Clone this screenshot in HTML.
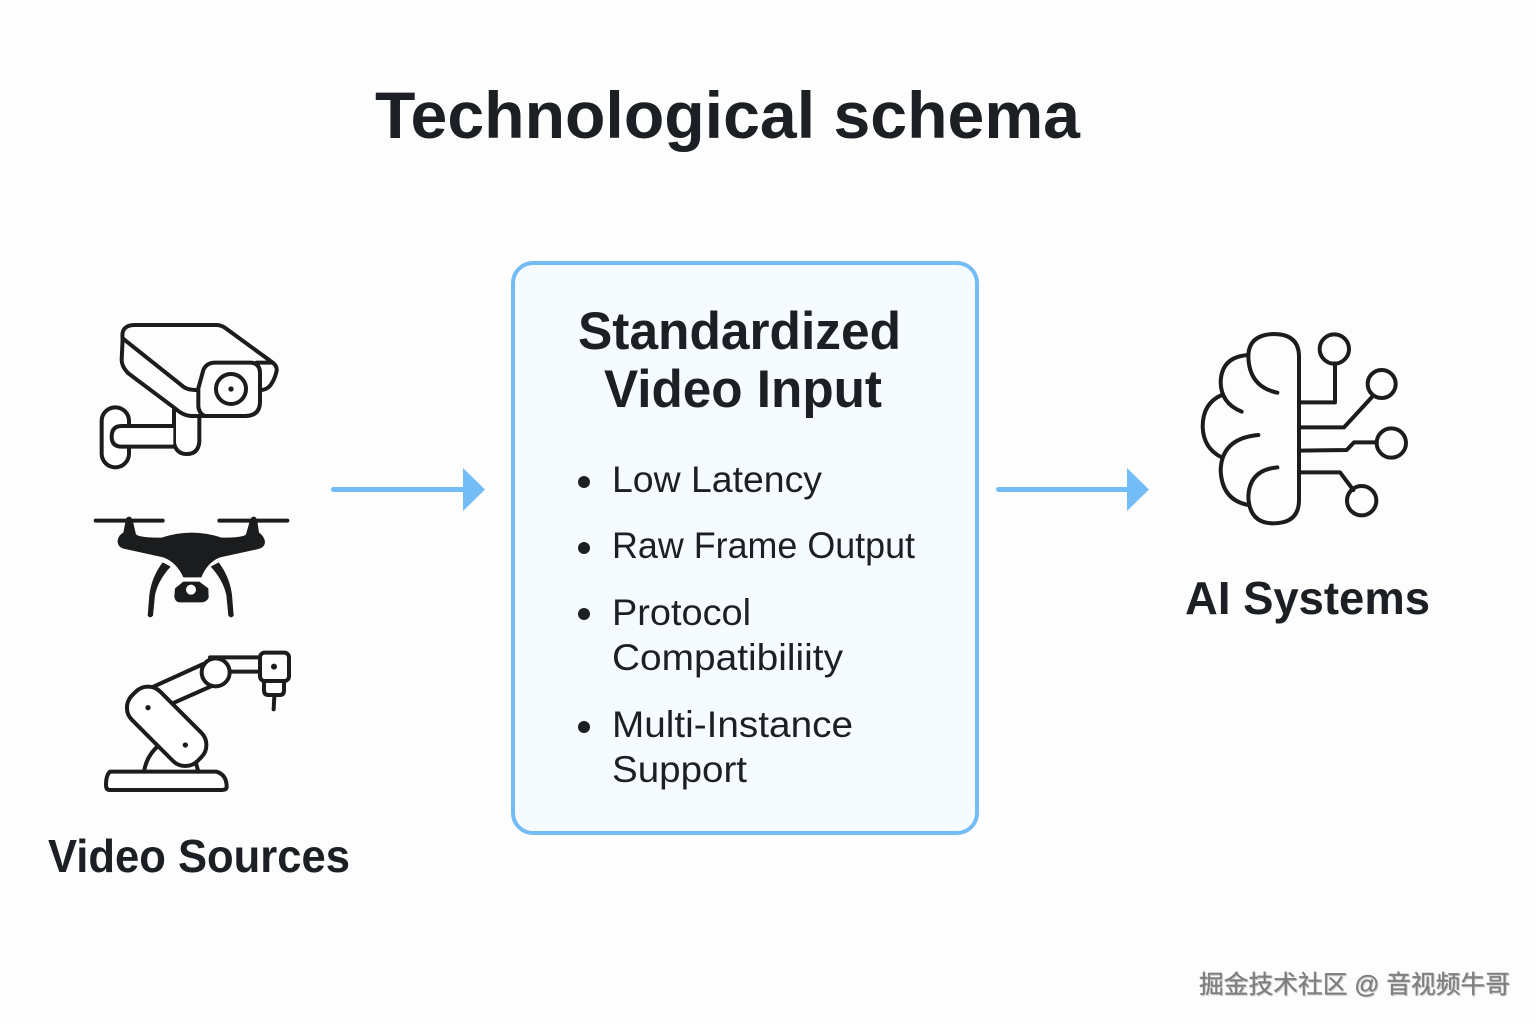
<!DOCTYPE html>
<html><head><meta charset="utf-8"><style>
html,body{margin:0;padding:0;background:#fdfdfd}
svg{display:block}
text{font-family:"Liberation Sans","Noto Sans CJK SC",sans-serif;fill:#1c2024}
.b{font-weight:700}
.i{fill:none;stroke:#1a1c1e;stroke-width:12;stroke-linecap:round;stroke-linejoin:round}
</style></head><body>
<svg width="1536" height="1024" viewBox="0 0 1536 1024" xmlns="http://www.w3.org/2000/svg">
<rect width="1536" height="1024" fill="#fdfdfd"/>
<text class="b" x="375" y="138" font-size="66" textLength="705" lengthAdjust="spacingAndGlyphs">Technological schema</text>

<rect x="513" y="263" width="464" height="570" rx="20" fill="#f5fbff" stroke="#74bcf5" stroke-width="4"/>
<text class="b" x="578" y="349" font-size="53" textLength="323" lengthAdjust="spacingAndGlyphs">Standardized</text>
<text class="b" x="604" y="407" font-size="53" textLength="278" lengthAdjust="spacingAndGlyphs">Video Input</text>
<g fill="#1c2024"><circle cx="584" cy="482" r="6"/><circle cx="584" cy="548" r="6"/><circle cx="584" cy="614" r="6"/><circle cx="584" cy="727" r="6"/></g>
<g font-size="37">
<text x="612" y="492" textLength="210" lengthAdjust="spacingAndGlyphs">Low Latency</text>
<text x="612" y="558" textLength="303" lengthAdjust="spacingAndGlyphs">Raw Frame Output</text>
<text x="612" y="625" textLength="139" lengthAdjust="spacingAndGlyphs">Protocol</text>
<text x="612" y="670" textLength="231" lengthAdjust="spacingAndGlyphs">Compatibiliity</text>
<text x="612" y="737" textLength="241" lengthAdjust="spacingAndGlyphs">Multi-Instance</text>
<text x="612" y="782" textLength="135" lengthAdjust="spacingAndGlyphs">Support</text>
</g>

<g fill="#74bcf5" stroke="none">
<rect x="331" y="487" width="134" height="5" rx="2.5"/><path d="M463 468L485 489.500L463 511Z"/>
<rect x="996" y="487" width="133" height="5" rx="2.500"/><path d="M1127 468L1149 489.500L1127 511Z"/>
</g>

<text class="b" x="48" y="872" font-size="46" textLength="302" lengthAdjust="spacingAndGlyphs">Video Sources</text>
<text class="b" x="1185" y="614" font-size="46" textLength="245" lengthAdjust="spacingAndGlyphs">AI Systems</text>

<!-- camera -->
<g transform="translate(80,310) scale(.33333)" class="i">
<path d="M282 300L282 400Q290 432 320 432Q355 432 358 395L358 320" fill="#fff"/>
<rect x="65" y="292" width="82" height="180" rx="41" fill="#fff"/>
<path d="M280 348L125 348Q95 348 95 380Q95 410 125 410L280 410" fill="#fff" stroke="none"/>
<path d="M280 348L125 348Q95 348 95 380Q95 410 125 410L280 410"/>
<path d="M128 85Q122 45 165 45L410 45Q425 45 440 57L570 152Q592 165 590 182Q585 205 575 220Q565 238 545 240"/>
<path d="M128 85L310 230Q322 240 352 240"/>
<path d="M128 85L125 150Q125 170 145 190L285 295Q310 318 335 318L495 318Q540 318 540 275L540 190Q540 158 510 158L405 158Q380 158 370 180L355 235L355 290Q358 312 375 318"/>
<path d="M530 158L575 158"/>
<circle cx="453" cy="237" r="45"/>
<circle cx="453" cy="237" r="8" fill="#1a1c1e" stroke="none"/>
</g>

<!-- drone -->
<g transform="translate(80,505) scale(.33333)">
<path d="M47 47L248 47M418 47L622 47" stroke="#1a1c1e" stroke-width="12" stroke-linecap="round"/>
<g fill="#1a1c1e">
<circle cx="147" cy="44" r="9"/><circle cx="521" cy="44" r="9"/>
<path d="M113 105Q118 88 130 83L138 42L157 42L168 88Q178 98 245 98Q290 83 335 83Q380 83 425 98Q490 98 498 88L511 42L531 42L537 83Q552 93 555 110Q555 127 535 132L420 157Q382 172 364 217L310 217Q290 172 250 157L135 132Q111 127 113 105Z"/>
<path d="M248 172L272 185Q235 225 225 270L219 332Q210 342 203 332L208 270Q215 215 248 172Z"/>
<path d="M416 172L392 185Q429 225 439 270L445 332Q454 342 461 332L456 270Q449 215 416 172Z"/>
<path d="M310 230L358 230L385 250L386 278Q380 292 365 292L300 292Q285 292 283 275L285 250Z"/>
</g>
<circle cx="333" cy="254" r="15" fill="#fff"/>
</g>

<!-- robot -->
<g transform="translate(90,640) scale(.33333)" class="i">
<path d="M60 395L380 395Q410 405 410 440Q410 450 395 450L60 450Q48 450 48 435Q48 405 60 395Z"/>
<path d="M162 395Q170 345 208 315M318 370L325 395"/>
<path d="M190 140L340 72M248 190L372 135"/>
<rect x="91" y="199" width="278" height="120" rx="52" transform="rotate(45 230 259)" fill="#fff"/>
<circle cx="377" cy="97" r="42" fill="#fff"/>
<path d="M360 52L510 52M420 95L510 95"/>
<rect x="510" y="38" width="87" height="85" rx="14" fill="#fff"/>
<path d="M522 123L522 150Q522 165 535 165L570 165Q582 165 582 150L582 123"/>
<path d="M553 168L551 208"/>
<g fill="#1a1c1e" stroke="none"><circle cx="174" cy="203" r="8"/><circle cx="286" cy="315" r="8"/><circle cx="552" cy="80" r="9"/></g>
</g>

<!-- brain -->
<g transform="translate(1190,320) scale(.33333)" class="i">
<path d="M327 110Q327 42 250 42Q178 45 175 105Q175 200 262 218"/>
<path d="M327 110L327 540Q327 610 250 610Q178 610 175 530Q178 450 262 442"/>
<path d="M175 105Q95 110 92 185Q92 250 155 275"/>
<path d="M95 225Q38 250 38 320Q40 385 95 412"/>
<path d="M205 345Q95 355 92 450Q95 540 175 555"/>
<path d="M327 247L435 247L435 130"/><circle cx="433" cy="87" r="44"/>
<path d="M327 322L462 322L545 232"/><circle cx="575" cy="192" r="42"/>
<path d="M327 392L470 390L492 367L560 367"/><circle cx="604" cy="369" r="44"/>
<path d="M327 457L450 457L490 510"/><circle cx="515" cy="542" r="44"/>
</g>

<text x="1199" y="993" font-size="25" textLength="311" lengthAdjust="spacingAndGlyphs" style="fill:#7d7d7d;filter:drop-shadow(1px 1px 0 #d0d0d0)" stroke="#8a8a8a" stroke-width=".4">掘金技术社区 @ 音视频牛哥</text>
</svg>
</body></html>
